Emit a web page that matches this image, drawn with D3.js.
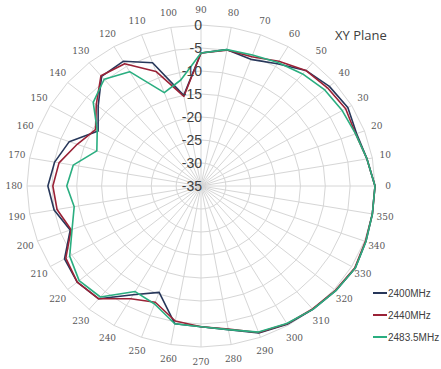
<!DOCTYPE html>
<html>
<head>
<meta charset="utf-8">
<script src="https://cdn.jsdelivr.net/npm/d3@7"></script>
<style>
  html, body { margin: 0; padding: 0; background: #ffffff; }
  svg { display: block; }
</style>
</head>
<body>
<svg id="chart" width="441" height="369"></svg>
<script>
// ---- data ----
const angles = d3.range(0, 360, 10);
const angleLabels = ["0","10","20","30","40","50","60","70","80","90","100","110","120","130","140","150","160","170",
                     "180","190","200","210","220","230","240","250","260","270","280","290","300","310","320","330","340","350"];
const radialTicks = [0, -5, -10, -15, -20, -25, -30, -35];
const seriesNames = ["2400MHz", "2440MHz", "2483.5MHz"];
const s2400 = [0, -1.1, -1.7, -0.9, -1.3, -2.2, -4.3, -5.7, -4.9, -6.1, -15.0, -6.5, -3.7, -3.9, -8.0, -11.1, -6.8, -5.1,
               -4.2, -5.0, -7.0, -3.3, -2.5, -3.0, -7.7, -10.4, -4.6, -4.4, -3.3, -1.0, -0.3, 0, 0.4, 0.8, 0.3, 0];
const s2440 = [0, -1.1, -1.9, -1.4, -1.8, -2.2, -3.7, -5.1, -5.0, -6.1, -15.2, -8.5, -4.3, -3.7, -7.5, -10.5, -8.5, -6.0,
               -5.2, -5.6, -7.2, -3.6, -2.5, -3.0, -6.7, -8.1, -5.2, -4.4, -3.4, -1.1, -0.4, -0.1, 0.3, 0.7, 0.2, 0];
const s2483 = [0, -1.1, -1.9, -2.2, -2.5, -3.2, -4.0, -4.7, -4.9, -6.1, -11.6, -13.4, -6.3, -4.7, -6.7, -10.9, -12.7, -8.9,
               -8.0, -9.1, -7.4, -4.5, -3.0, -3.5, -8.5, -7.7, -4.6, -4.4, -3.3, -1.2, -0.5, 0, 0.4, 0.8, 0.3, 0];
const seriesColors = ["#27375a", "#9a2236", "#2aae80"];

// ---- layout ----
const cx = 201, cy = 186, rx = 174, ry = 161;
const svg = d3.select("#chart");
const rScale = d3.scaleLinear().domain([-35, 0]).range([0, 1]);
const toRad = a => a * Math.PI / 180;
const px = (a, v) => cx + rx * rScale(v) * Math.cos(toRad(a));
const py = (a, v) => cy - ry * rScale(v) * Math.sin(toRad(a));

// grid rings (polygons as in spreadsheet radar charts)
const g = svg.append("g");
radialTicks.filter(t => t > -35).forEach(t => {
  g.append("path")
    .attr("d", d3.line().x(a => px(a, t)).y(a => py(a, t)).curve(d3.curveLinearClosed)(angles))
    .attr("fill", "none").attr("stroke", "#d6d6d6").attr("stroke-width", 1);
});
// spokes
angles.forEach(a => {
  g.append("line")
    .attr("x1", cx).attr("y1", cy)
    .attr("x2", px(a, 0)).attr("y2", py(a, 0))
    .attr("stroke", "#d6d6d6").attr("stroke-width", 1);
});

// angle labels
svg.append("g").selectAll("text").data(angles).join("text")
  .attr("x", a => cx + (rx + 13) * Math.cos(toRad(a)))
  .attr("y", a => cy - (ry + 15) * Math.sin(toRad(a)))
  .attr("text-anchor", "middle").attr("dominant-baseline", "central")
  .attr("font-family", "DejaVu Serif, serif").attr("font-size", 9)
  .attr("fill", "#595959")
  .text((a, i) => angleLabels[i]);

// series
const series = [s2400, s2440, s2483];
series.forEach((vals, si) => {
  const pts = angles.map((a, i) => [a, vals[i]]);
  svg.append("path")
    .attr("d", d3.line().x(d => px(d[0], d[1])).y(d => py(d[0], d[1])).curve(d3.curveLinearClosed)(pts))
    .attr("fill", "none").attr("stroke", seriesColors[si]).attr("stroke-width", 1.6)
    .attr("stroke-linejoin", "round");
});

// radial value labels
svg.append("g").selectAll("text").data(radialTicks).join("text")
  .attr("x", cx + 1)
  .attr("y", t => py(90, t))
  .attr("text-anchor", "end").attr("dominant-baseline", "central")
  .attr("font-family", "Liberation Sans, Arial, sans-serif").attr("font-size", 14)
  .attr("fill", "#404040")
  .text(t => t);

// title
svg.append("text").attr("x", 335).attr("y", 35).attr("dominant-baseline", "central")
  .attr("font-family", "Open Sans, sans-serif").attr("font-size", 13).attr("fill", "#404040")
  .text("XY Plane");

// legend
const lg = svg.append("g");
seriesNames.forEach((n, i) => {
  const y = 293 + i * 22;
  lg.append("line").attr("x1", 373).attr("x2", 387).attr("y1", y).attr("y2", y)
    .attr("stroke", seriesColors[i]).attr("stroke-width", 2);
  lg.append("text").attr("x", 388).attr("y", y).attr("dominant-baseline", "central")
    .attr("font-family", "Liberation Sans, Arial, sans-serif").attr("font-size", 10)
    .attr("fill", "#404040").text(n);
});
</script>
</body>
</html>
